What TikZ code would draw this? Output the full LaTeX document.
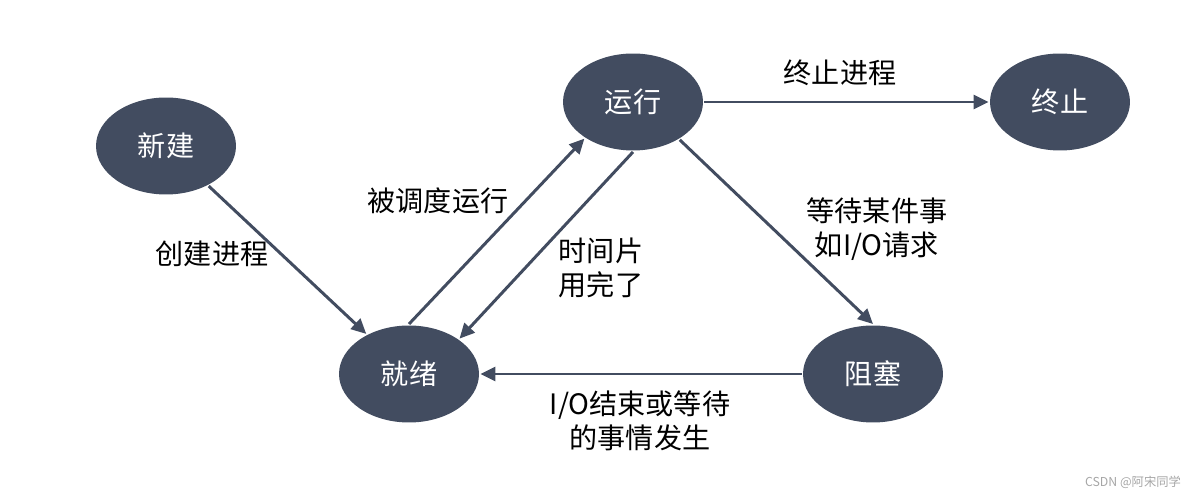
\documentclass[tikz,border=0pt]{standalone}
\usepackage{fontspec}
\setmainfont{Noto Sans CJK SC}
\usepackage{tikz}
\usetikzlibrary{arrows.meta,shapes.geometric,positioning}
\definecolor{slate}{HTML}{424C60}

\begin{document}
\begin{tikzpicture}[x=0.02cm, y=-0.02cm, >={Triangle[length=0.3cm,width=0.28cm]},
		line width=1.7pt, draw=slate, font=\fontsize{16}{19.3}\selectfont]
			\tikzset{proc/.style={ellipse,fill=slate,draw=none,text=white,inner sep=0pt,
			minimum width=2.8cm,minimum height=1.94cm},
			lbl/.style={align=center,text=black,inner sep=0pt}}

			\useasboundingbox (0,0) rectangle (1184,499);

			\begin{scope}
				\node[proc] (new) at (166,146) {新建}; \node[proc] (run) at
				(633,102) {运行}; \node[proc] (exit) at (1060,102) {终止};
				\node[proc] (ready) at (409,374) {就绪}; \node[proc] (block)
				at (873,374) {阻塞};

				\draw[->,slate] (new) -- (ready); \draw[->,slate] (ready.north)
				-- (run.217); \draw[->,slate] (run.south) -- (ready.35);
				\draw[->,slate] (run) -- (exit); \draw[->,slate] (run.321) --
				(block.north); \draw[->,slate] (block) -- (ready);

				\node[lbl] (l1) at (212,254) {创建进程}; \node[lbl] (l2) at
				(438,201) {被调度运行}; \node[lbl] (l3) at (601,268)
				{时间片\\用完了}; \node[lbl] (l4) at (840,73) {终止进程};
				\node[lbl] (l5) at (877,229) {等待某件事\\如I/O请求};
				\node[lbl] (l6) at (640,421) {I/O结束或等待\\的事情发生};
			\end{scope}

			\node[text=black!35,font=\fontsize{7}{8}\selectfont,inner sep=0pt]
			(mark) at (1133,482) {CSDN @阿宋同学};
		\end{tikzpicture}
\end{document}
